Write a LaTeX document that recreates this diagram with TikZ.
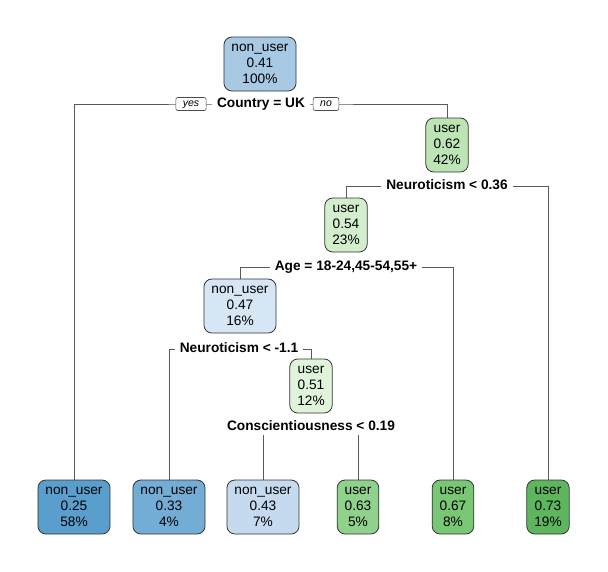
\documentclass[tikz,border=0pt]{standalone}
\usepackage{fontspec}
\setmainfont{Liberation Sans}
\usetikzlibrary{backgrounds}
\definecolor{cRoot}{HTML}{A7C9E3}
\definecolor{cLa}{HTML}{5A9ECE}
\definecolor{cLb}{HTML}{73ADD5}
\definecolor{cLc}{HTML}{C5DAEF}
\definecolor{cNf}{HTML}{D6E6F5}
\definecolor{cNb}{HTML}{BCE4B5}
\definecolor{cNc}{HTML}{D3EECD}
\definecolor{cNe}{HTML}{E0F3DB}
\definecolor{cLd}{HTML}{90D18B}
\definecolor{cLe}{HTML}{79C775}
\definecolor{cLf}{HTML}{5DB65E}
\definecolor{edgegray}{HTML}{5A5A5A}
\tikzset{
  treebox/.style={draw=black!80, line width=0.8pt, rounded corners=8pt, align=center,
    font=\fontsize{13.7}{16}\selectfont, minimum height=54pt, inner xsep=7.5pt, inner ysep=2pt},
  splitlbl/.style={fill=white, font=\fontsize{13.7}{16}\selectfont\bfseries, inner xsep=5pt, inner ysep=1.5pt,
    text height=10pt, text depth=3pt},
  yesno/.style={draw=black!70, fill=white, line width=0.6pt, rounded corners=2pt,
    font=\fontsize{10.5}{12}\selectfont\itshape, inner xsep=7pt, inner ysep=0pt,
    minimum height=13pt, text height=7.5pt, text depth=2pt},
  edge/.style={draw=edgegray, line width=0.8pt}
}
\begin{document}
\begin{tikzpicture}[x=1pt,y=-1pt]
\useasboundingbox (0,0) rectangle (608,571);
% tree nodes
\node[treebox, fill=cRoot] (root) at (260,64) {non\_user\\0.41\\100\%};
\node[treebox, fill=cNb] (n2) at (447,145) {user\\0.62\\42\%};
\node[treebox, fill=cNc] (n3) at (346,225) {user\\0.54\\23\%};
\node[treebox, fill=cNf] (n4) at (240,306) {non\_user\\0.47\\16\%};
\node[treebox, fill=cNe] (n5) at (311,386) {user\\0.51\\12\%};
\node[treebox, fill=cLa] (l1) at (74,507) {non\_user\\0.25\\58\%};
\node[treebox, fill=cLb] (l2) at (169,507) {non\_user\\0.33\\4\%};
\node[treebox, fill=cLc] (l3) at (263,507) {non\_user\\0.43\\7\%};
\node[treebox, fill=cLd] (l4) at (358,507) {user\\0.63\\5\%};
\node[treebox, fill=cLe] (l5) at (453,507) {user\\0.67\\8\%};
\node[treebox, fill=cLf] (l6) at (548,507) {user\\0.73\\19\%};
% split labels
\node[splitlbl] (s1) at (261,104) {Country = UK};
\node[splitlbl] (s2) at (447,186) {Neuroticism < 0.36};
\node[splitlbl] (s3) at (346,267) {Age = 18-24,45-54,55+};
\node[splitlbl] (s4) at (239,349) {Neuroticism < -1.1};
\node[splitlbl] (s5) at (311,427) {Conscientiousness < 0.19};
\node[yesno] (yes) at (191,104) {yes};
\node[yesno] (no) at (326,104) {no};
% connectors
\begin{pgfonlayer}{background}
\draw[edge] (l1.north) |- (s1.center) -| (n2.north);
\draw[edge] (n3.north) |- (s2.center) -| (l6.north);
\draw[edge] (n4.north) |- (s3.center) -| (l5.north);
\draw[edge] (l2.north) |- (s4.center) -| (n5.north);
\draw[edge] (l3.north) |- (s5.center) -| (l4.north);
\end{pgfonlayer}
\end{tikzpicture}
\end{document}
